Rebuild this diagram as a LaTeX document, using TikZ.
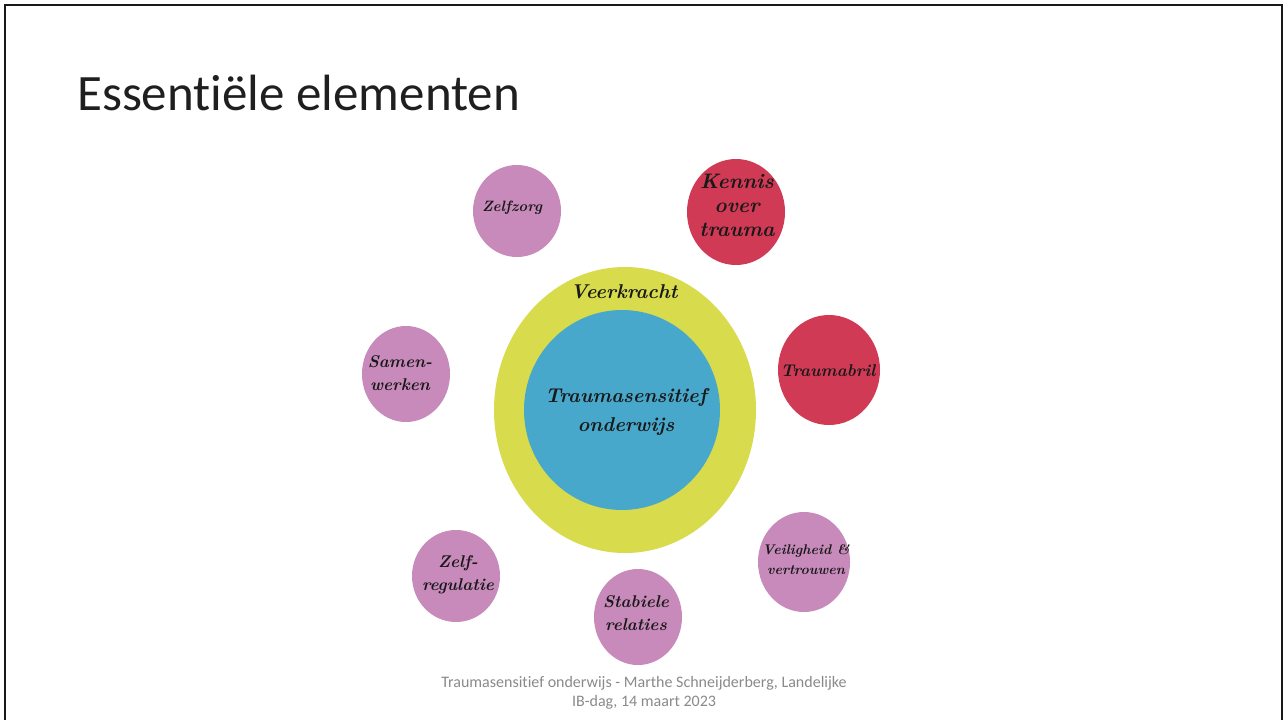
\documentclass[tikz,border=0pt]{standalone}
\usepackage{fontspec}
\newfontfamily\slidefont[Ligatures=NoCommon]{Carlito}
\definecolor{bubblepink}{HTML}{C78ABB}
\definecolor{bubblered}{HTML}{D13A55}
\definecolor{ringyellow}{HTML}{D8DC4C}
\definecolor{coreblue}{HTML}{47A8CB}
\definecolor{footgray}{HTML}{8A8A8A}
\tikzset{
  bubble/.style={fill=#1, draw=none},
  hand/.style={text=black!90, align=center, inner sep=0pt},
}
\newcommand{\handfont}[1]{\bfseries\itshape\fontsize{#1}{#1}\selectfont}
\begin{document}
\begin{tikzpicture}[x=1pt,y=-1pt]
\useasboundingbox (0,0) rectangle (1284,720);
\fill[white] (0,0) rectangle (1284,720);
% slide frame
\draw[line width=2.2pt, black!90] (5,720) -- (5,5) -- (1282,5) -- (1282,720);
% title
\node[anchor=base west, inner sep=0pt, text=black!88, font=\slidefont\fontsize{51}{56}\selectfont] (title) at (77,110) {Essentiële elementen};
% central circles
\fill[ringyellow] (625,410) ellipse [x radius=131, y radius=143];
\fill[coreblue] (622,410) ellipse [x radius=98, y radius=100];
\node[hand, font=\handfont{20}] (veer) at (624,292) {Veerkracht};
\node[hand, font=\handfont{20}, align=center] (core) at (626,412) {Traumasensitief\\[9pt]onderwijs};
% outer bubbles
\fill[bubble=bubblepink] (517,211) ellipse [x radius=44, y radius=46];
\node[hand, font=\handfont{15}] (zelfzorg) at (512,208) {Zelfzorg};
\fill[bubble=bubblered] (736,212) ellipse [x radius=49, y radius=53];
\node[hand, font=\handfont{21}] (kennis) at (737,205) {Kennis\\[3pt]over\\[3pt]trauma};
\fill[bubble=bubblepink] (406,374) ellipse [x radius=44, y radius=48];
\node[hand, font=\handfont{17}] (samen) at (400,373) {Samen-\\[6pt]werken};
\fill[bubble=bubblered] (829,370) ellipse [x radius=51, y radius=55];
\node[hand, font=\handfont{17}] (bril) at (828,371) {Traumabril};
\fill[bubble=bubblepink] (456,576) ellipse [x radius=44, y radius=46];
\node[hand, font=\handfont{17}] (zelfreg) at (458,575) {Zelf-\\[6pt]regulatie};
\fill[bubble=bubblepink] (638,617) ellipse [x radius=44, y radius=48];
\node[hand, font=\handfont{17}] (stabiel) at (636,613) {Stabiele\\[6pt]relaties};
\fill[bubble=bubblepink] (804,562) ellipse [x radius=46, y radius=50];
\node[hand, font=\handfont{14}] (veilig) at (806,560) {Veiligheid \&\\[6pt]vertrouwen};
% footer
\node[align=center, inner sep=0pt, text=footgray, font=\slidefont\fontsize{16}{19.5}\selectfont] (footer) at (644,693) {Traumasensitief onderwijs - Marthe Schneijderberg, Landelijke\\IB-dag, 14 maart 2023};
\end{tikzpicture}
\end{document}
